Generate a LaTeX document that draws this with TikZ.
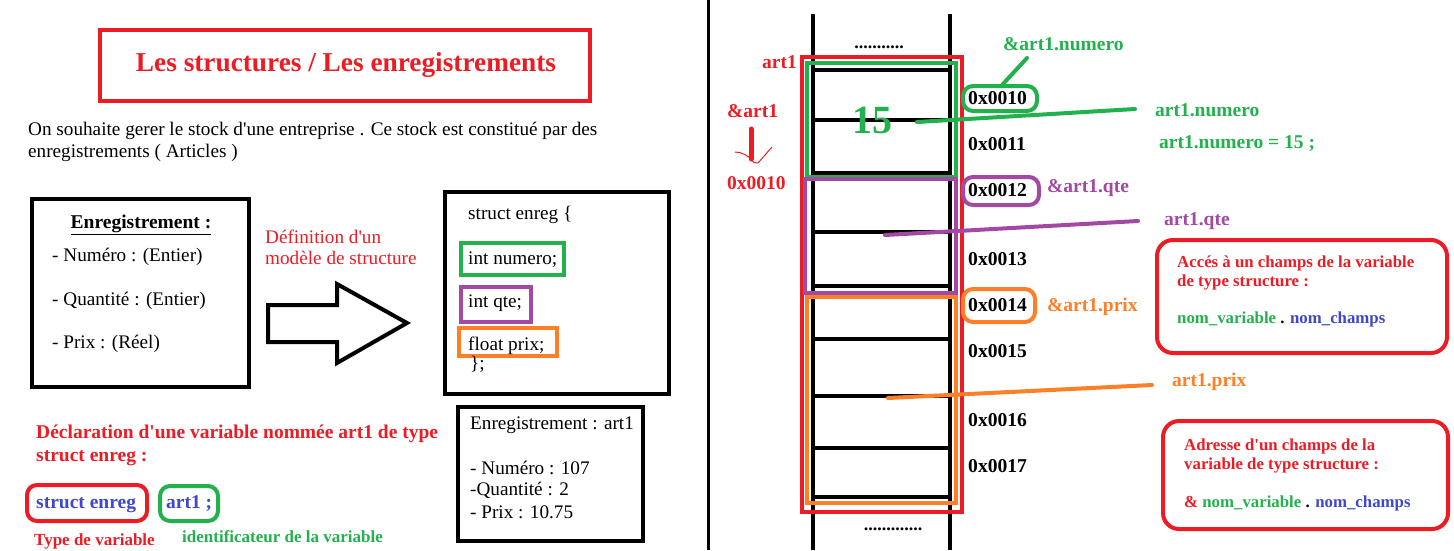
\documentclass[tikz,border=0pt]{standalone}
\usepackage{fontspec}
\setmainfont{Liberation Serif}[Ligatures=TeXOff]
\usetikzlibrary{calc}
\definecolor{pred}{RGB}{237,28,36}
\definecolor{pgreen}{RGB}{34,177,76}
\definecolor{ppurple}{RGB}{163,73,164}
\definecolor{porange}{RGB}{255,127,39}
\definecolor{pblue}{RGB}{63,72,204}
\tikzset{
  txt/.style={anchor=base west, inner sep=0pt, font=\fontsize{19.2}{22}\selectfont},
  btxt/.style={anchor=base west, inner sep=0pt, font=\fontsize{19.5}{22}\selectfont\bfseries},
  stxt/.style={anchor=base west, inner sep=0pt, font=\fontsize{17}{20}\selectfont\bfseries},
  addr/.style={anchor=base west, inner sep=0pt, font=\fontsize{19.6}{22}\selectfont\bfseries},
  boxtxt/.style={anchor=base west, inner sep=0pt, font=\fontsize{16.8}{19}\selectfont\bfseries},
  frame/.style={draw, line width=4pt},
  rbox/.style={draw, line width=4pt, rounded corners=10pt},
  pline/.style={line width=4pt, line cap=round},
}
\begin{document}
\begin{tikzpicture}[x=1pt,y=-1pt]
\useasboundingbox (0,0) rectangle (1454,550);
% ---------------- left half ----------------
\draw[pred, frame] (100,30) rectangle (590,101);
\node[inner sep=0pt, text=pred, font=\fontsize{27.3}{30}\selectfont\bfseries] (title) at (346,65) {Les structures / Les enregistrements};
\node[txt] (intro1) at (28,135) {On souhaite gerer le stock d'une entreprise . Ce stock est constitué par des};
\node[txt] (intro2) at (28,157) {enregistrements ( Articles )};

\draw[frame] (32,199) rectangle (249,387);
\node[anchor=base, inner sep=0pt, font=\fontsize{19.5}{22}\selectfont\bfseries] (enh) at (141,228) {\underline{Enregistrement :}};
\node[txt] (f1) at (52,261) {- Numéro : (Entier)};
\node[txt] (f2) at (52,305) {- Quantité : (Entier)};
\node[txt] (f3) at (52,348) {- Prix : (Réel)};

\node[txt, text=pred] (def1) at (265,243) {Définition d'un};
\node[txt, text=pred] (def2) at (265,264) {modèle de structure};

\draw[line width=4pt, line join=miter] (268,305) -- (337,305) -- (337,284) -- (407,323) -- (337,363) -- (337,342) -- (268,342) -- cycle;

\draw[frame] (445,192) rectangle (669,394);
\node[txt] (s0) at (468,219) {struct enreg \{};
\draw[pgreen, frame] (461,243) rectangle (564,275);
\node[txt] (s1) at (468,264) {int numero;};
\draw[ppurple, frame] (461,287) rectangle (531,322);
\node[txt] (s2) at (468,307) {int qte;};
\draw[porange, frame] (459,328) rectangle (557,356);
\node[txt] (s3) at (468,350) {float prix;};
\node[txt] (s4) at (470,369) {\};};

\node[btxt, text=pred] (decl1) at (36,438) {Déclaration d'une variable nommée art1 de type};
\node[btxt, text=pred] (decl2) at (36,461) {struct enreg :};
\draw[pred, rbox] (27,485) rectangle (147,521);
\node[btxt, text=pblue] (typ) at (36,508) {struct enreg};
\draw[pgreen, rbox] (160,486) rectangle (218,521);
\node[btxt, text=pblue] (ident) at (166,508) {art1 ;};
\node[stxt, text=pred] (ltyp) at (34,545) {Type de variable};
\node[stxt, text=pgreen] (lident) at (182,542) {identificateur de la variable};

\draw[frame] (458,407) rectangle (643,541);
\node[txt] (e0) at (470,429) {Enregistrement : art1};
\node[txt] (e1) at (470,474) {- Numéro : 107};
\node[txt] (e2) at (470,495) {-Quantité : 2};
\node[txt] (e3) at (470,518) {- Prix : 10.75};

% separator
\draw[line width=3pt] (708,0) -- (708,550);

% ---------------- right half ----------------
\draw[line width=4pt] (813,14) -- (813,550);
\draw[line width=4pt] (950,14) -- (950,550);
\node[anchor=base, inner sep=0pt, font=\fontsize{18}{22}\selectfont\bfseries] (dtop) at (879,48) {...........};
\node[anchor=base, inner sep=0pt, font=\fontsize{18}{22}\selectfont\bfseries] (dbot) at (893,530) {.............};
\foreach \yy in {70,120,173,232,286,339,396,448,497}
  \draw[line width=4pt] (813,\yy) -- (950,\yy);

\node[addr] (a10) at (968,104) {0x0010};
\node[addr] (a11) at (968,150) {0x0011};
\node[addr] (a12) at (968,196) {0x0012};
\node[addr] (a13) at (968,265) {0x0013};
\node[addr] (a14) at (968,311) {0x0014};
\node[addr] (a15) at (968,357) {0x0015};
\node[addr] (a16) at (968,426) {0x0016};
\node[addr] (a17) at (968,472) {0x0017};

\draw[pred, frame] (802,57) rectangle (962,512);
\draw[pgreen, frame] (807,63) rectangle (956,177);
\draw[ppurple, frame] (805,179) rectangle (956,293);
\draw[porange, frame] (807,297) rectangle (956,503);

\node[btxt, anchor=base east, text=pred] (art1) at (797,68) {art1};
\node[btxt, text=pred] (amp) at (727,117) {\&art1};
\node[btxt, text=pred] (ampv) at (727,189) {0x0010};
\coordinate (arA) at (751,129);
\coordinate (arB) at (751,159);
\draw[pred, line width=5pt, line cap=round] (arA) -- (arB);
\draw[pred, line width=1pt] (735,152) .. controls (742,152) and (748,156) .. (751,159) .. controls (753,162) and (755,164) .. (758,163) -- (772,147);

\node[anchor=base, inner sep=0pt, text=pgreen, font=\fontsize{40}{44}\selectfont\bfseries] (v15) at (872,133) {15};

% numero
\node[btxt, text=pgreen] (lnum) at (1155,116) {art1.numero};
\node[btxt, text=pgreen] (lnum2) at (1159,148) {art1.numero = 15 ;};
\node[btxt, text=pgreen] (anum) at (1003,50) {\&art1.numero};
\draw[pgreen, rbox] (963,86) rectangle (1037,111);
\coordinate (gn1) at (917,122);
\coordinate (gn2) at (1135,109);
\draw[pgreen, pline] (gn1) -- (gn2);
\coordinate (ga1) at (1027,58);
\coordinate (ga2) at (1003,84);
\draw[pgreen, pline] (ga1) -- (ga2);

% qte
\draw[ppurple, rbox] (963,177) rectangle (1039,205);
\node[btxt, text=ppurple] (aqte) at (1047,192) {\&art1.qte};
\node[btxt, text=ppurple] (lqte) at (1164,225) {art1.qte};
\coordinate (pq1) at (885,235);
\coordinate (pq2) at (1138,221);
\draw[ppurple, pline] (pq1) -- (pq2);

% prix
\draw[porange, rbox] (963,289) rectangle (1035,322);
\node[btxt, text=porange] (aprix) at (1047,311) {\&art1.prix};
\node[btxt, text=porange] (lprix) at (1172,386) {art1.prix};
\coordinate (op1) at (888,398);
\coordinate (op2) at (1152,385);
\draw[porange, pline] (op1) -- (op2);

% info boxes
\draw[pred, rbox, rounded corners=16pt] (1157,240) rectangle (1447,353);
\node[boxtxt, text=pred] (b1a) at (1177,267) {Accés à un champs de la variable};
\node[boxtxt, text=pred] (b1b) at (1177,286) {de type structure :};
\node[boxtxt] (b1c) at (1177,323) {\textcolor{pgreen}{nom\_variable} . \textcolor{pblue}{nom\_champs}};

\draw[pred, rbox, rounded corners=16pt] (1163,421) rectangle (1448,529);
\node[boxtxt, text=pred] (b2a) at (1184,450) {Adresse d'un champs de la};
\node[boxtxt, text=pred] (b2b) at (1184,469) {variable de type structure :};
\node[boxtxt] (b2c) at (1184,507) {\textcolor{pred}{\&} \textcolor{pgreen}{nom\_variable} . \textcolor{pblue}{nom\_champs}};
\end{tikzpicture}
\end{document}
